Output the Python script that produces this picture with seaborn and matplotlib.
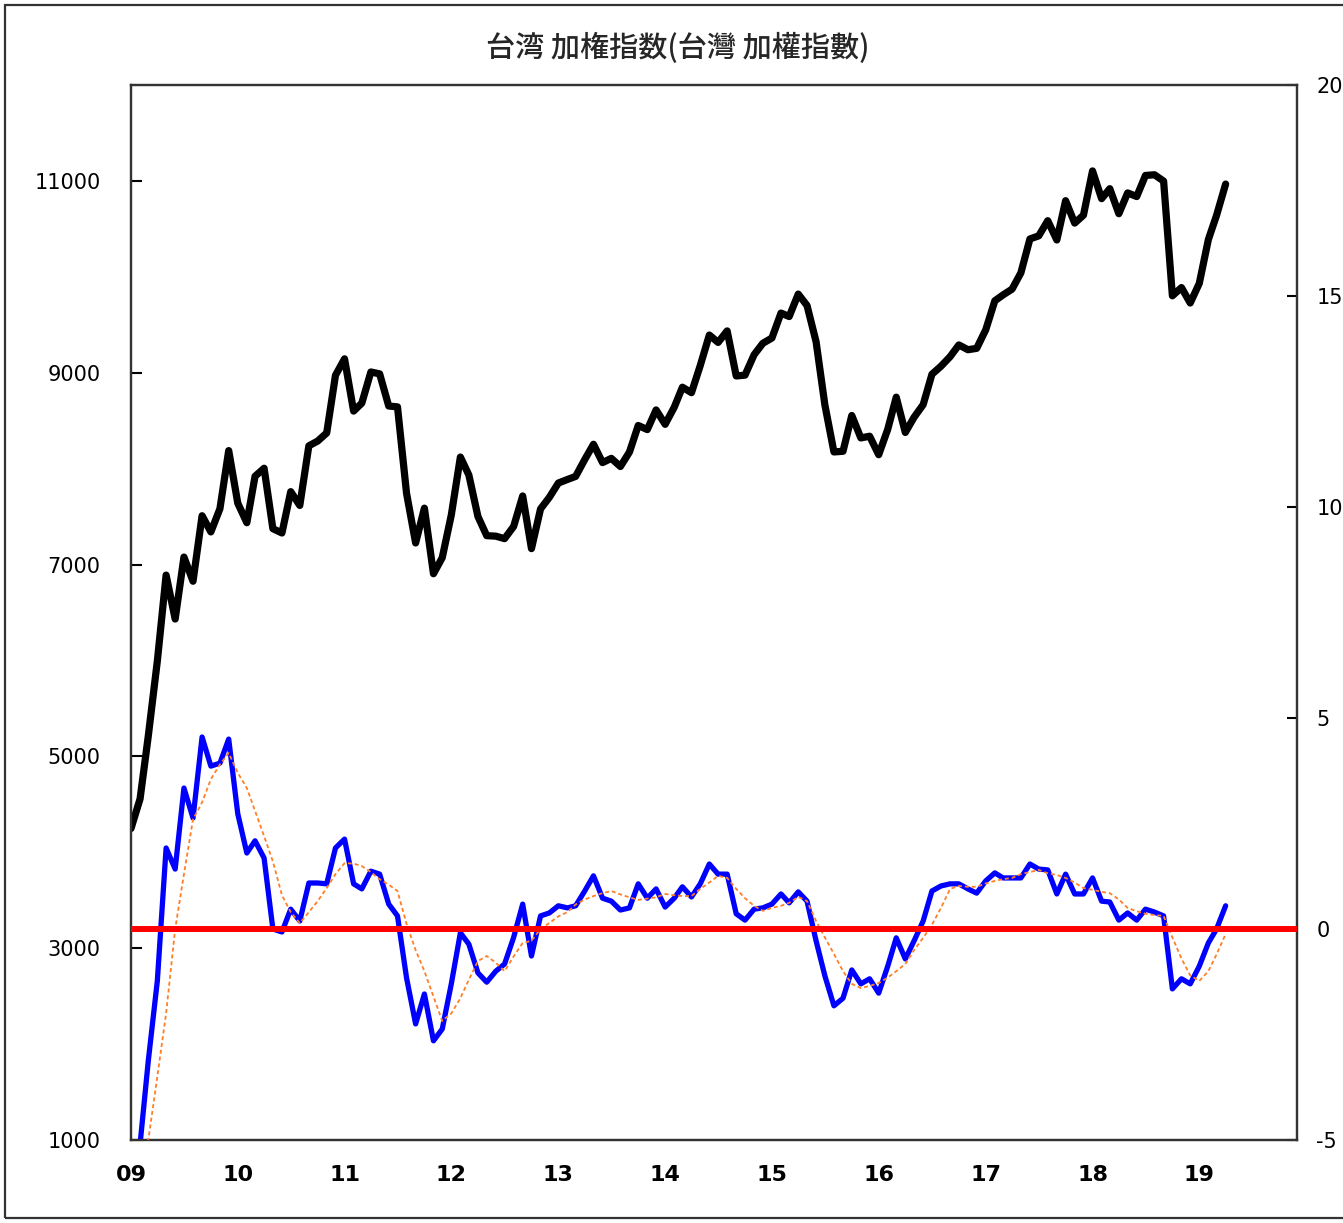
import numpy as np
import pandas as pd
import matplotlib
matplotlib.use("Agg")
import matplotlib.pyplot as plt
from matplotlib.patches import Rectangle
import seaborn as sns

# -------------------------------------------------------
# Data (monthly, Jan 2009 - Apr 2019)
# -------------------------------------------------------
start_month = "2009-01-01"
n_months = 124

# TAIEX monthly close (left axis)
taiex = [
    4248, 4557, 5210, 5993, 6890, 6432, 7078, 6826, 7509, 7340, 7582, 8188,
    7640, 7436, 7920, 8004, 7374, 7329, 7760, 7616, 8238, 8287, 8372, 8973,
    9145, 8600, 8683, 9008, 8988, 8653, 8644, 7742, 7225, 7588, 6904, 7072,
    7517, 8121, 7933, 7501, 7301, 7296, 7270, 7397, 7715, 7166, 7580, 7700,
    7850, 7887, 7919, 8094, 8254, 8063, 8107, 8022, 8173, 8450, 8407, 8612,
    8462, 8640, 8849, 8792, 9075, 9393, 9316, 9436, 8966, 8975, 9187, 9307,
    9362, 9622, 9586, 9820, 9701, 9323, 8665, 8174, 8181, 8554, 8320, 8338,
    8145, 8411, 8745, 8377, 8536, 8667, 8984, 9068, 9167, 9290, 9240, 9254,
    9448, 9750, 9811, 9872, 10041, 10395, 10427, 10585, 10384, 10794, 10560, 10643,
    11104, 10815, 10919, 10658, 10875, 10837, 11057, 11064, 10998, 9802, 9888, 9727,
    9932, 10389, 10641, 10967,
]

# momentum indicator (right axis, blue)
momentum = [
    -7.5, -5.1, -3.13, -1.23, 1.92, 1.42, 3.34, 2.63, 4.55, 3.86, 3.93, 4.50,
    2.73, 1.80, 2.09, 1.68, 0.00, -0.07, 0.47, 0.19, 1.09, 1.09, 1.07, 1.92,
    2.13, 1.07, 0.95, 1.37, 1.30, 0.59, 0.31, -1.16, -2.25, -1.54, -2.65, -2.37,
    -1.30, -0.09, -0.36, -1.04, -1.26, -1.00, -0.83, -0.20, 0.59, -0.64, 0.31, 0.38,
    0.55, 0.50, 0.55, 0.90, 1.26, 0.73, 0.66, 0.45, 0.50, 1.07, 0.73, 0.95,
    0.52, 0.73, 1.00, 0.76, 1.07, 1.54, 1.30, 1.30, 0.36, 0.21, 0.47, 0.50,
    0.59, 0.83, 0.62, 0.88, 0.66, -0.28, -1.11, -1.82, -1.64, -0.97, -1.30, -1.18,
    -1.52, -0.88, -0.21, -0.71, -0.28, 0.19, 0.90, 1.02, 1.07, 1.07, 0.95, 0.85,
    1.14, 1.33, 1.21, 1.21, 1.21, 1.54, 1.42, 1.40, 0.83, 1.30, 0.83, 0.83,
    1.21, 0.66, 0.64, 0.21, 0.38, 0.21, 0.47, 0.40, 0.31, -1.42, -1.18, -1.30,
    -0.88, -0.33, 0.00, 0.55,
]

# smoothed momentum (right axis, orange dotted)
smoothed = [
    -9.0, -7.0, -5.0, -3.5, -2.0, 0.00, 1.30, 2.60, 3.00, 3.55, 3.90, 4.17,
    3.70, 3.34, 2.80, 2.20, 1.60, 0.80, 0.40, 0.14, 0.40, 0.66, 0.97, 1.30,
    1.56, 1.55, 1.49, 1.35, 1.18, 1.05, 0.90, 0.12, -0.50, -1.00, -1.60, -2.18,
    -2.00, -1.64, -1.20, -0.76, -0.64, -0.80, -1.00, -0.65, -0.33, -0.28, 0.00, 0.14,
    0.30, 0.40, 0.58, 0.70, 0.78, 0.85, 0.90, 0.82, 0.75, 0.69, 0.72, 0.75,
    0.83, 0.80, 0.78, 0.78, 0.95, 1.10, 1.26, 1.21, 0.95, 0.73, 0.55, 0.43,
    0.50, 0.55, 0.62, 0.76, 0.66, 0.19, -0.20, -0.59, -1.00, -1.30, -1.40, -1.35,
    -1.28, -1.15, -1.00, -0.83, -0.50, -0.21, 0.10, 0.50, 0.95, 1.02, 1.00, 1.00,
    1.08, 1.14, 1.18, 1.21, 1.30, 1.35, 1.40, 1.32, 1.28, 1.21, 1.10, 0.97,
    0.93, 0.88, 0.85, 0.70, 0.50, 0.42, 0.36, 0.33, 0.31, -0.20, -0.70, -1.10,
    -1.23, -1.00, -0.60, -0.12,
]

year_labels = ["09", "10", "11", "12", "13", "14", "15", "16", "17", "18", "19"]
left_ticks = [1000, 3000, 5000, 7000, 9000, 11000]
right_ticks = [-5, 0, 5, 10, 15, 20]
title = "台湾 加権指数(台灣 加權指數)"

# -------------------------------------------------------
# Plot
# -------------------------------------------------------
sns.set_style("white")
plt.rcParams["font.family"] = ["Noto Sans CJK JP", "DejaVu Sans"]

dates = pd.date_range(start_month, periods=n_months, freq="MS")
df = pd.DataFrame({"date": dates, "taiex": taiex,
                   "momentum": momentum, "smoothed": smoothed})

fig = plt.figure(figsize=(13.43, 12.23), dpi=100)
ax = fig.add_axes([131 / 1343, 1 - 1140 / 1223, (1297 - 131) / 1343, (1140 - 85) / 1223])
ax2 = ax.twinx()

sns.lineplot(data=df, x="date", y="taiex", ax=ax, color="black", linewidth=5.2)
sns.lineplot(data=df, x="date", y="momentum", ax=ax2, color="#0000ff", linewidth=3.8, zorder=2)
sns.lineplot(data=df, x="date", y="smoothed", ax=ax2, color="#ff7f27", linewidth=1.3,
             linestyle=(0, (2.2, 1.6)), zorder=3)
ax2.axhline(0, color="#ff0000", linewidth=4.3, zorder=4)

ax.set_ylim(1000, 12000)
ax2.set_ylim(-5, 20)
ax.set_xlim(pd.Timestamp("2009-01-01"), pd.Timestamp("2019-12-01"))

year_ticks = pd.date_range("2009-01-01", periods=len(year_labels), freq="YS")
ax.set_xticks(year_ticks)
ax.set_xticklabels(year_labels, fontsize=16, fontweight="bold", family="DejaVu Sans")
ax.set_yticks(left_ticks)
ax.set_yticklabels([str(v) for v in left_ticks], fontsize=15, family="DejaVu Sans")
ax2.set_yticks(right_ticks)
ax2.set_yticklabels([str(v) for v in right_ticks], fontsize=15, family="DejaVu Sans")

ax.set_xlabel("")
ax.set_ylabel("")
ax2.set_ylabel("")

ax.tick_params(axis="x", direction="in", length=8, width=1.5, pad=18, colors="black")
ax.tick_params(axis="y", direction="in", length=8, width=1.5, pad=22, colors="black")
ax2.tick_params(axis="y", direction="in", length=7, width=1.5, pad=14, colors="black")

for a in (ax, ax2):
    for sp in a.spines.values():
        sp.set_color("#333333")
        sp.set_linewidth(1.6)

fig.text(0.505, 1 - 48 / 1223, title, ha="center", va="center",
         fontsize=21, fontweight="medium")

# outer frame around the chart
fig.patches.append(Rectangle((5 / 1343, 5 / 1223), 1.2, 1 - 10 / 1223,
                             transform=fig.transFigure, fill=False,
                             edgecolor="#333333", linewidth=1.6))

fig.savefig("out.png", dpi=100)
